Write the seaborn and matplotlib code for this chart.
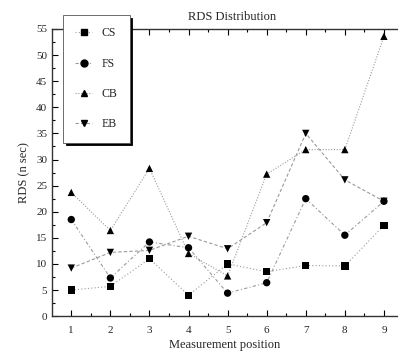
import matplotlib
matplotlib.use("Agg")
import matplotlib.pyplot as plt
from matplotlib.lines import Line2D
from matplotlib.ticker import MultipleLocator
import seaborn as sns
import pandas as pd

positions = [1, 2, 3, 4, 5, 6, 7, 8, 9]
cs = [5.0, 5.7, 11.0, 4.0, 10.0, 8.5, 9.7, 9.6, 17.4]
fs = [18.5, 7.3, 14.2, 13.1, 4.4, 6.4, 22.5, 15.5, 22.0]
cb = [23.7, 16.4, 28.3, 12.0, 7.7, 27.2, 31.9, 31.9, 53.6]
eb = [9.2, 12.2, 12.6, 15.3, 12.9, 17.9, 35.0, 26.1, 22.0]
series_names = ["CS", "FS", "CB", "EB"]
y_ticks = list(range(0, 60, 5))

sns.set_theme(style="ticks")
plt.rcParams["font.family"] = ["Liberation Serif", "DejaVu Serif"]

rows = []
for name, vals in zip(series_names, [cs, fs, cb, eb]):
    for p, v in zip(positions, vals):
        rows.append({"pos": p, "rds": v, "series": name})
df = pd.DataFrame(rows)

markers = {"CS": "s", "FS": "o", "CB": "^", "EB": "v"}
dashes = {"CS": (1, 2), "FS": (3, 2, 1, 2), "CB": (1, 1.5), "EB": (3, 2)}
line_grey = "#9a9a9a"

fig = plt.figure(figsize=(3.98, 3.58), dpi=100)
ax = fig.add_axes([0.131, 0.117, 0.869, 0.802])

sns.lineplot(data=df, x="pos", y="rds", hue="series", style="series",
             palette={n: line_grey for n in series_names}, dashes=dashes,
             markers=False, linewidth=0.8, legend=False, ax=ax, sort=False)
sns.scatterplot(data=df, x="pos", y="rds", style="series", markers=markers,
                color="black", s=28, edgecolor="black", linewidth=0,
                legend=False, ax=ax, zorder=3)

ax.set_xlim(0.51, 9.36)
ax.set_ylim(0, 55)
ax.set_xticks(positions)
ax.set_yticks(y_ticks)
ax.xaxis.set_minor_locator(MultipleLocator(0.5))
ax.yaxis.set_minor_locator(MultipleLocator(2.5))
ax.tick_params(which="both", direction="in", top=True, right=False,
               labelsize=8, color="black", width=0.8)
ax.tick_params(which="major", length=4)
ax.tick_params(which="minor", length=2)
ax.tick_params(axis="x", pad=7)
for s in ["left", "bottom", "top"]:
    ax.spines[s].set_color("#333333")
    ax.spines[s].set_linewidth(1.0)
ax.spines["right"].set_visible(False)

ax.set_xlabel("Measurement position", fontsize=9, labelpad=3)
ax.set_ylabel("RDS (n sec)", fontsize=9, labelpad=4)
fig.text(232 / 398, 1 - 17 / 358, "RDS Distribution", ha="center",
         va="center", fontsize=9)

handles = []
for name in series_names:
    handles.append(Line2D([0], [0], color=line_grey, linestyle=(0, dashes[name]),
                          linewidth=0.8, marker=markers[name], markersize=5,
                          markerfacecolor="black", markeredgecolor="black"))
leg = fig.legend(handles, series_names, loc="upper left",
                 bbox_to_anchor=(63 / 398, 1 - 15 / 358), frameon=True,
                 fancybox=False, shadow={"color": "black", "alpha": 1.0},
                 fontsize=8.5, handlelength=1.4, labelspacing=1.55,
                 borderpad=1.05, handletextpad=0.8, borderaxespad=0)
leg.get_frame().set_edgecolor("#555555")
leg.get_frame().set_linewidth(0.6)

fig.savefig("out.png", dpi=100)
